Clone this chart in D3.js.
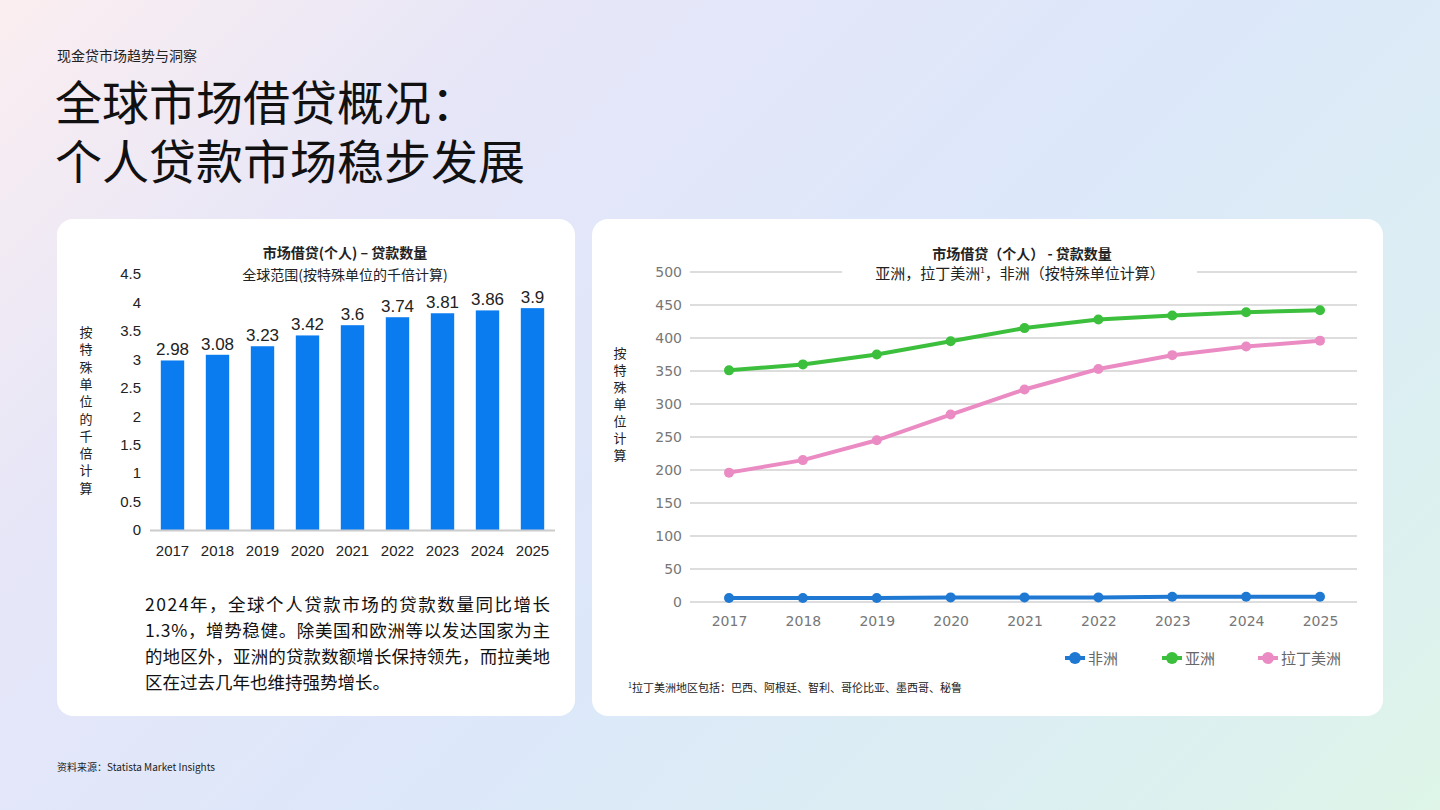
<!DOCTYPE html>
<html><head><meta charset="utf-8">
<script src="https://cdn.jsdelivr.net/npm/d3@7"></script>
<style>
body{margin:0;width:1440px;height:810px;overflow:hidden;font-family:"Noto Sans CJK SC","Noto Sans",sans-serif;
background:linear-gradient(135deg,#fbeef0 0%,#e6e6f8 25%,#dce8fa 55%,#dcf0f0 85%,#def5e8 100%);}
</style></head><body>
<svg id="s" width="1440" height="810"></svg>
<script>
const years=["2017","2018","2019","2020","2021","2022","2023","2024","2025"];
const globalVals=[2.98,3.08,3.23,3.42,3.6,3.74,3.81,3.86,3.9];
const leftTicks=[0,0.5,1,1.5,2,2.5,3,3.5,4,4.5];
const africa=[6,6,6,7,7,7,8,8,8];
const asia=[351,360,375,395,415,428,434,439,442];
const latam=[196,215,245,284,322,353,374,387,396];
const rightTicks=[0,50,100,150,200,250,300,350,400,450,500];

const svg=d3.select("#s");
const F='"Noto Sans CJK SC",sans-serif';
svg.append("text").attr("x",57).attr("y",61).attr("font-size",14).attr("fill","#222").attr("font-family",F).text("现金贷市场趋势与洞察");
svg.append("text").attr("x",55).attr("y",120).attr("font-size",47).attr("fill","#111").attr("font-family",F).text("全球市场借贷概况：");
svg.append("text").attr("x",55).attr("y",179).attr("font-size",47).attr("fill","#111").attr("font-family",F).text("个人贷款市场稳步发展");
svg.append("text").attr("x",57).attr("y",771).attr("font-size",10).attr("fill","#222").attr("font-family",F).text("资料来源：Statista Market Insights");

svg.append("rect").attr("x",57).attr("y",219).attr("width",518).attr("height",497).attr("rx",16).attr("fill","#fff");
svg.append("rect").attr("x",592).attr("y",219).attr("width",791).attr("height",497).attr("rx",16).attr("fill","#fff");

// Left chart
const xL=d3.scaleBand().domain(years).range([150,555]).paddingInner(0.48).paddingOuter(0.24);
const yL=d3.scaleLinear().domain([0,4.5]).range([530,274]);
const gL=svg.append("g");
gL.append("text").attr("x",345).attr("y",258).attr("text-anchor","middle").attr("font-size",14).attr("font-weight","bold").attr("font-family",F).attr("fill","#222").text("市场借贷(个人) – 贷款数量");
gL.append("text").attr("x",345).attr("y",280).attr("text-anchor","middle").attr("font-size",14).attr("font-family",F).attr("fill","#222").text("全球范围(按特殊单位的千倍计算)");
gL.selectAll(".b").data(globalVals).join("rect").attr("x",(d,i)=>xL(years[i])).attr("width",xL.bandwidth())
 .attr("y",d=>yL(d)).attr("height",d=>530-yL(d)).attr("fill","#0a7cf0");
gL.selectAll(".bl").data(globalVals).join("text").attr("x",(d,i)=>xL(years[i])+xL.bandwidth()/2).attr("y",d=>yL(d)-5)
 .attr("text-anchor","middle").attr("font-size",17).attr("font-family","Liberation Sans, Arial").attr("fill","#222").text(d=>d);
gL.append("line").attr("x1",150).attr("x2",555).attr("y1",530.5).attr("y2",530.5).attr("stroke","#ccc").attr("stroke-width",2);
const axL=d3.axisLeft(yL).tickValues(leftTicks).tickSize(0).tickPadding(0).tickFormat(d=>d);
const gaL=gL.append("g").attr("transform","translate(141,0)").call(axL);
gaL.select(".domain").remove();
gaL.selectAll("text").attr("font-size",15).attr("font-family","Liberation Sans, Arial").attr("fill","#222");
const axLB=d3.axisBottom(xL).tickSize(0).tickPadding(8);
const gbL=gL.append("g").attr("transform","translate(0,537)").call(axLB);
gbL.select(".domain").remove();
gbL.selectAll("text").attr("font-size",15).attr("font-family","Liberation Sans, Arial").attr("fill","#222");
"按特殊单位的千倍计算".split("").forEach((c,i)=>gL.append("text").attr("x",86).attr("y",337+i*17.3).attr("text-anchor","middle").attr("font-size",13).attr("font-family",F).attr("fill","#222").text(c));
const para=["2024年，全球个人贷款市场的贷款数量同比增长","1.3%，增势稳健。除美国和欧洲等以发达国家为主","的地区外，亚洲的贷款数额增长保持领先，而拉美地","区在过去几年也维持强势增长。"];
para.forEach((t,i)=>gL.append("text").attr("x",145).attr("y",611+i*26).attr("font-size",17.5).attr("font-family",F).attr("fill","#111").attr("textLength",i<3?405:null).text(t));

// Right chart
const xR=d3.scalePoint().domain(years).range([729,1320]);
const yR=d3.scaleLinear().domain([0,500]).range([602,272]);
const gR=svg.append("g");
gR.selectAll(".g").data(rightTicks).join("line").attr("x1",690).attr("x2",1357).attr("y1",d=>yR(d)).attr("y2",d=>yR(d)).attr("stroke","#ddd").attr("stroke-width",2);
gR.append("rect").attr("x",842).attr("y",262).attr("width",355).attr("height",22).attr("fill","#fff");
gR.append("text").attr("x",1022).attr("y",259).attr("text-anchor","middle").attr("font-size",14).attr("font-weight","bold").attr("font-family",F).attr("fill","#222").text("市场借贷（个人） - 贷款数量");
const st=gR.append("text").attr("x",1020).attr("y",279).attr("text-anchor","middle").attr("font-size",15).attr("font-family",F).attr("fill","#222");
st.append("tspan").text("亚洲，拉丁美洲");st.append("tspan").attr("font-size",8).attr("dy",-6).text("1");st.append("tspan").attr("dy",6).text("，非洲（按特殊单位计算）");
const axR=d3.axisLeft(yR).tickValues(rightTicks).tickSize(0).tickPadding(0);
const gaR=gR.append("g").attr("transform","translate(682,0)").call(axR);
gaR.select(".domain").remove();
gaR.selectAll("text").attr("font-size",14).attr("font-family","DejaVu Sans").attr("fill","#777");
const gbR=gR.append("g").attr("transform","translate(0,612)").call(d3.axisBottom(xR).tickSize(0).tickPadding(4));
gbR.select(".domain").remove();
gbR.selectAll("text").attr("font-size",14).attr("font-family","DejaVu Sans").attr("fill","#777");
"按特殊单位计算".split("").forEach((c,i)=>gR.append("text").attr("x",620).attr("y",358+i*17).attr("text-anchor","middle").attr("font-size",13).attr("font-family",F).attr("fill","#222").text(c));
const series=[{n:"非洲",v:africa,c:"#1f78d1"},{n:"亚洲",v:asia,c:"#3cbf3c"},{n:"拉丁美洲",v:latam,c:"#ea8cc3"}];
const line=d3.line().x((d,i)=>xR(years[i])).y(d=>yR(d));
series.forEach(s=>{
 gR.append("path").attr("d",line(s.v)).attr("fill","none").attr("stroke",s.c).attr("stroke-width",4);
 gR.selectAll(null).data(s.v).join("circle").attr("cx",(d,i)=>xR(years[i])).attr("cy",d=>yR(d)).attr("r",5).attr("fill",s.c);
});
const lx=[1075,1172,1268];
series.forEach((s,i)=>{
 gR.append("line").attr("x1",lx[i]-10).attr("x2",lx[i]+10).attr("y1",658).attr("y2",658).attr("stroke",s.c).attr("stroke-width",4);
 gR.append("circle").attr("cx",lx[i]).attr("cy",658).attr("r",6).attr("fill",s.c);
 gR.append("text").attr("x",lx[i]+13).attr("y",664).attr("font-size",15).attr("font-family",F).attr("fill","#666").text(s.n);
});
const fn=gR.append("text").attr("x",628).attr("y",692).attr("font-size",11).attr("font-family",F).attr("fill","#222");
fn.append("tspan").attr("font-size",7).attr("dy",-4).text("1");fn.append("tspan").attr("dy",4).text("拉丁美洲地区包括：巴西、阿根廷、智利、哥伦比亚、墨西哥、秘鲁");
</script></body></html>
